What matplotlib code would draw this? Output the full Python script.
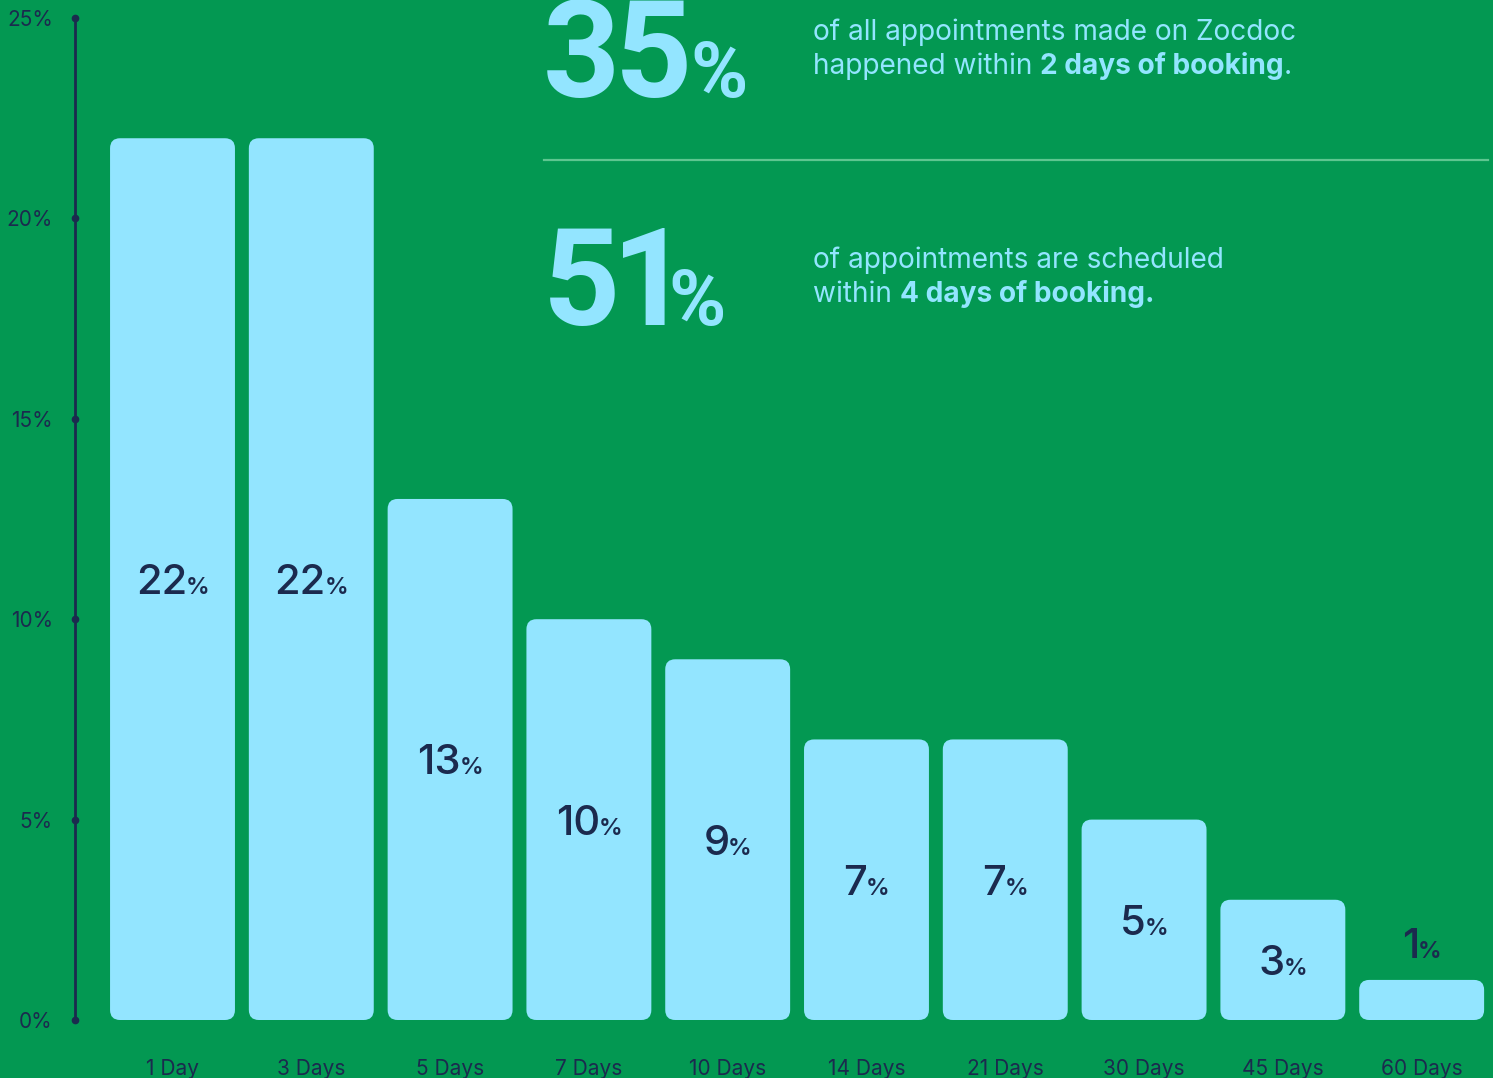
import matplotlib
matplotlib.use("Agg")
import matplotlib.pyplot as plt
from matplotlib.patches import FancyBboxPatch
from matplotlib.lines import Line2D
from matplotlib.textpath import TextPath
from matplotlib.font_manager import FontProperties
import matplotlib.transforms as mtransforms

# Data
categories = ["1 Day", "3 Days", "5 Days", "7 Days", "10 Days",
              "14 Days", "21 Days", "30 Days", "45 Days", "60 Days"]
shares = [22, 22, 13, 10, 9, 7, 7, 5, 3, 1]
y_ticks = [0, 5, 10, 15, 20, 25]
y_tick_labels = ["0%", "5%", "10%", "15%", "20%", "25%"]
headline_values = ["35", "51"]
headline_lines = [
    [[("of all appointments made on Zocdoc", False)],
     [("happened within ", False), ("2 days of booking", True), (".", False)]],
    [[("of appointments are scheduled", False)],
     [("within ", False), ("4 days of booking.", True)]],
]

# Style
BG = "#039852"
BAR = "#93E5FF"
NAVY = "#1B2A4E"
CYAN = "#93E5FF"
FONT = "Inter"

W, H, DPI = 1493, 1078, 100
fig = plt.figure(figsize=(W / DPI, H / DPI), dpi=DPI, facecolor=BG)
ax = fig.add_axes([75 / W, 58 / H, 1418 / W, 1002 / H])
ax.set_facecolor(BG)
ax.set_xlim(-0.7025, 9.514)
ax.set_ylim(0, 25)

# Bars with rounded corners
bars = ax.bar(range(len(shares)), shares, width=0.9, color=BAR)
px_x = 1418 / (9.514 + 0.7025)
px_y = 1002 / 25
radius_px = 10
for b in bars:
    x0, y0 = b.get_x(), b.get_y()
    bw, bh = b.get_width(), b.get_height()
    b.set_visible(False)
    patch = FancyBboxPatch(
        (x0, y0), bw, bh,
        boxstyle=f"round,pad=0,rounding_size={radius_px / px_x}",
        mutation_aspect=(px_x / px_y),
        facecolor=BAR, edgecolor="none", zorder=2)
    ax.add_patch(patch)

# Axis styling
for s in ["top", "right", "bottom"]:
    ax.spines[s].set_visible(False)
ax.spines["left"].set_color(NAVY)
ax.spines["left"].set_linewidth(2)
ax.set_yticks(y_ticks)
ax.set_yticklabels(y_tick_labels, fontsize=15, color=NAVY, family=FONT)
ax.tick_params(axis="y", length=0, pad=16)
ax.set_xticks(range(len(categories)))
ax.set_xticklabels(categories, fontsize=15, color=NAVY, family=FONT)
ax.tick_params(axis="x", length=0, pad=28)
trans = mtransforms.blended_transform_factory(ax.transAxes, ax.transData)
ax.plot([0] * len(y_ticks), y_ticks, "o", color=NAVY, ms=4.5,
        transform=trans, clip_on=False, zorder=5)

renderer = fig.canvas.get_renderer()

# Value labels: big number with a small percent sign
num_fs, pct_fs = 30, 17
cap_pt = 21.6
for i, v in enumerate(shares):
    if v >= 2:
        anchor, dy = v / 2, -cap_pt / 2
    else:
        anchor, dy = v, 16
    t1 = ax.annotate(f"{v}", xy=(i, anchor), xytext=(0, dy),
                     textcoords="offset points", ha="right", va="baseline",
                     fontsize=num_fs, color=NAVY, family=FONT,
                     fontweight="medium", zorder=6)
    t2 = ax.annotate("%", xy=(i, anchor), xytext=(0, dy),
                     textcoords="offset points", ha="left", va="baseline",
                     fontsize=pct_fs, color=NAVY, family=FONT,
                     fontweight="semibold", zorder=6)
    w1 = t1.get_window_extent(renderer).width
    w2 = t2.get_window_extent(renderer).width
    shift = (w1 - w2) / 2 * 72 / DPI
    t1.xyann = (shift + 0.5, dy)
    t2.xyann = (shift - 0.5, dy)


def fx(x):
    return x / W


def fy(y):
    return 1 - y / H


# Headline figures, laid out glyph by glyph on their ink extents
big_fp = FontProperties(family="Roboto", weight="bold")


def ink_span(ch, size_pt):
    ext = TextPath((0, 0), ch, size=size_pt, prop=big_fp).get_extents()
    return ext.x0 * DPI / 72, ext.x1 * DPI / 72


def headline(x, yb, digits, digit_fs=97, pct_fs=56, gap=8):
    for ch, fs in [(d, digit_fs) for d in digits] + [("%", pct_fs)]:
        x0, x1 = ink_span(ch, fs)
        fig.text(fx(x - x0), fy(yb), ch, ha="left", va="baseline",
                 fontsize=fs, fontweight="bold", color=CYAN,
                 family="Roboto")
        x += (x1 - x0) + gap


big_x = [547, 550]
big_base = [97, 325]
for val, x, yb in zip(headline_values, big_x, big_base):
    headline(x, yb, val)


def rich_line(x, yb, pieces, fs=20.2):
    for txt, bold in pieces:
        t = fig.text(fx(x), fy(yb), txt, ha="left", va="baseline",
                     fontsize=fs, color=CYAN, family=FONT,
                     fontweight="bold" if bold else "normal")
        x += t.get_window_extent(renderer).width


line_bases = [[40, 74], [268, 302]]
for block, bases in zip(headline_lines, line_bases):
    for pieces, yb in zip(block, bases):
        rich_line(813, yb, pieces)

# Divider between the two headline figures
fig.add_artist(Line2D([fx(544), fx(1488)], [fy(160), fy(160)],
                      color="#5EC690", lw=1.6))

fig.savefig("out.png", dpi=DPI, facecolor=BG)
